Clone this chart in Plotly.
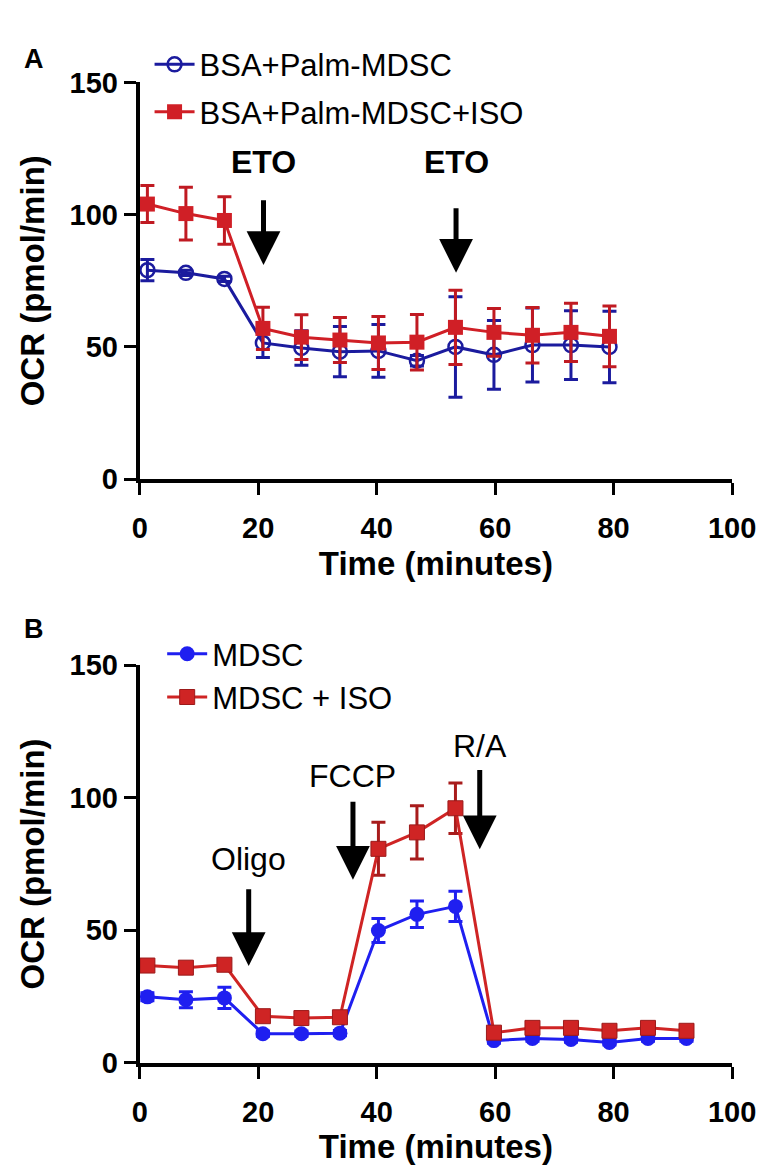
import plotly.graph_objects as go

# ---- panel A data ----
time_a = [1.3, 7.8, 14.3, 20.8, 27.3, 33.8, 40.3, 46.8, 53.3, 59.8, 66.3, 72.8, 79.3]
ocr_a_bsa = [79, 78, 75.7, 51.5, 49.6, 48.2, 48.5, 44.8, 50, 47, 50.7, 50.7, 50]
err_a_bsa = [4, 1, 1, 5.5, 6.5, 9.5, 10, 2, 19, 13, 14, 13, 13.5]
ocr_a_iso = [104, 100.4, 97.8, 57, 53.7, 52.6, 51.5, 51.8, 57.4, 55.5, 54.4, 55.5, 54]
err_a_iso = [7, 10, 9, 8, 8.5, 8.5, 10, 10.5, 14, 9, 10.5, 11, 11.5]

# ---- panel B data ----
time_b = [1.3, 7.8, 14.3, 20.8, 27.3, 33.8, 40.3, 46.8, 53.3, 59.8, 66.3, 72.8, 79.3, 85.8, 92.3]
ocr_b_mdsc = [24.9, 23.8, 24.5, 11, 11, 11.2, 49.9, 56, 59, 8.4, 9.2, 8.8, 7.7, 9.2, 9.2]
err_b_mdsc = [1.5, 3, 4, 1, 1, 1, 4.5, 5, 5.7, 1, 1, 1, 1, 1, 1]
ocr_b_iso = [36.7, 35.9, 37, 17.6, 16.9, 17.2, 80.7, 86.9, 96, 11.4, 13.2, 13.2, 12.1, 13.2, 12.1]
err_b_iso = [1.5, 1.5, 1.5, 1, 1, 1, 10, 10, 9.5, 1, 1, 1, 1, 1, 1]

# injection arrows: label, x, arrow top, arrow tip, label y
arrows_a = [("<b>ETO</b>", 20.9, 106, 81, 120), ("<b>ETO</b>", 53.4, 103, 78, 120)]
arrows_b = [("Oligo", 18.4, 66, 36.5, 77), ("FCCP", 36.0, 99, 69, 108), ("R/A", 57.4, 111, 80.5, 119.5)]

x_ticks = [0, 20, 40, 60, 80, 100]
y_ticks = [0, 50, 100, 150]

navy = '#1b1b9e'
red_a = '#d01f26'
blue_b = '#1f1ff0'
red_b = '#cf2424'

FONT = 'Liberation Sans, Arial'
tick_font = dict(family=FONT, size=29, color='black', weight='bold')
title_font = dict(family=FONT, size=33, color='black', weight='bold')
label_font = dict(family=FONT, size=32, color='black')

fig = go.Figure()

fig.add_trace(go.Scatter(x=time_a, y=ocr_a_bsa, name='BSA+Palm-MDSC', mode='lines+markers',
                         line=dict(color=navy, width=3),
                         marker=dict(symbol='circle-open', size=14, color=navy, line=dict(width=2.5)),
                         error_y=dict(array=err_a_bsa, color=navy, thickness=3, width=7),
                         cliponaxis=False, legend='legend', legendgroup='a1',
                         xaxis='x', yaxis='y'))
fig.add_trace(go.Scatter(x=time_a, y=ocr_a_iso, name='BSA+Palm-MDSC+ISO', mode='lines+markers',
                         line=dict(color=red_a, width=3),
                         marker=dict(symbol='square', size=15, color=red_a),
                         error_y=dict(array=err_a_iso, color='#c01a22', thickness=3, width=7),
                         cliponaxis=False, legend='legend', legendgroup='a2',
                         xaxis='x', yaxis='y'))

fig.add_trace(go.Scatter(x=time_b, y=ocr_b_mdsc, name='MDSC', mode='lines+markers',
                         line=dict(color=blue_b, width=3),
                         marker=dict(symbol='circle', size=15, color=blue_b),
                         error_y=dict(array=err_b_mdsc, color=blue_b, thickness=3, width=7),
                         cliponaxis=False, legend='legend2', legendgroup='b1',
                         xaxis='x2', yaxis='y2'))
fig.add_trace(go.Scatter(x=time_b, y=ocr_b_iso, name='MDSC + ISO', mode='lines+markers',
                         line=dict(color=red_b, width=3),
                         marker=dict(symbol='square', size=15, color=red_b, line=dict(color='#9c1a1a', width=1)),
                         error_y=dict(array=err_b_iso, color='#a81c1c', thickness=3, width=7),
                         cliponaxis=False, legend='legend2', legendgroup='b2',
                         xaxis='x2', yaxis='y2'))

annotations = []
for (label, xa, top, tip, ly), (xr, yr) in [(a, ('x', 'y')) for a in arrows_a] + [(b, ('x2', 'y2')) for b in arrows_b]:
    annotations.append(dict(x=xa, y=tip, ax=xa, ay=top, xref=xr, yref=yr, axref=xr, ayref=yr,
                            text='', showarrow=True, arrowhead=2, arrowsize=1.35, arrowwidth=5,
                            arrowcolor='black'))
    annotations.append(dict(x=xa, y=ly, xref=xr, yref=yr, text=label, showarrow=False, font=label_font))

annotations.append(dict(x=0.008, y=0.984, xref='paper', yref='paper', text='<b>A</b>', showarrow=False,
                        xanchor='left', font=dict(family=FONT, size=27, color='black')))
annotations.append(dict(x=0.008, y=0.469, xref='paper', yref='paper', text='<b>B</b>', showarrow=False,
                        xanchor='left', font=dict(family=FONT, size=27, color='black')))

axis_common = dict(showline=True, linewidth=4, linecolor='black', ticks='outside', ticklen=12,
                   tickwidth=3, tickcolor='black', showgrid=False, zeroline=False, tickfont=tick_font)

fig.update_layout(
    width=774, height=1172,
    margin=dict(l=0, r=0, t=0, b=0),
    plot_bgcolor='white', paper_bgcolor='white',
    showlegend=True,
    xaxis=dict(domain=[0.1667, 0.9651], range=[0, 100], tickvals=x_ticks, anchor='y', ticklabelstandoff=8,
               title=dict(text='Time (minutes)', font=title_font, standoff=10), **axis_common),
    yaxis=dict(domain=[0.6007, 0.9488], range=[0, 150], tickvals=y_ticks, anchor='x',
               title=dict(text='OCR (pmol/min)', font=title_font, standoff=16), **axis_common),
    xaxis2=dict(domain=[0.1667, 0.9651], range=[0, 100], tickvals=x_ticks, anchor='y2', ticklabelstandoff=8,
                title=dict(text='Time (minutes)', font=title_font, standoff=4), **axis_common),
    yaxis2=dict(domain=[0.0887, 0.4377], range=[0, 150], tickvals=y_ticks, anchor='x2',
                title=dict(text='OCR (pmol/min)', font=title_font, standoff=16), **axis_common),
    legend=dict(x=0.18, y=0.988, xanchor='left', yanchor='top', bgcolor='rgba(0,0,0,0)',
                font=dict(family=FONT, size=31, color='black'),
                tracegroupgap=4, itemwidth=40),
    legend2=dict(x=0.197, y=0.471, xanchor='left', yanchor='top', bgcolor='rgba(0,0,0,0)',
                 font=dict(family=FONT, size=31, color='black'),
                 tracegroupgap=0, itemwidth=40),
    annotations=annotations,
)

fig.write_html("out.html")
